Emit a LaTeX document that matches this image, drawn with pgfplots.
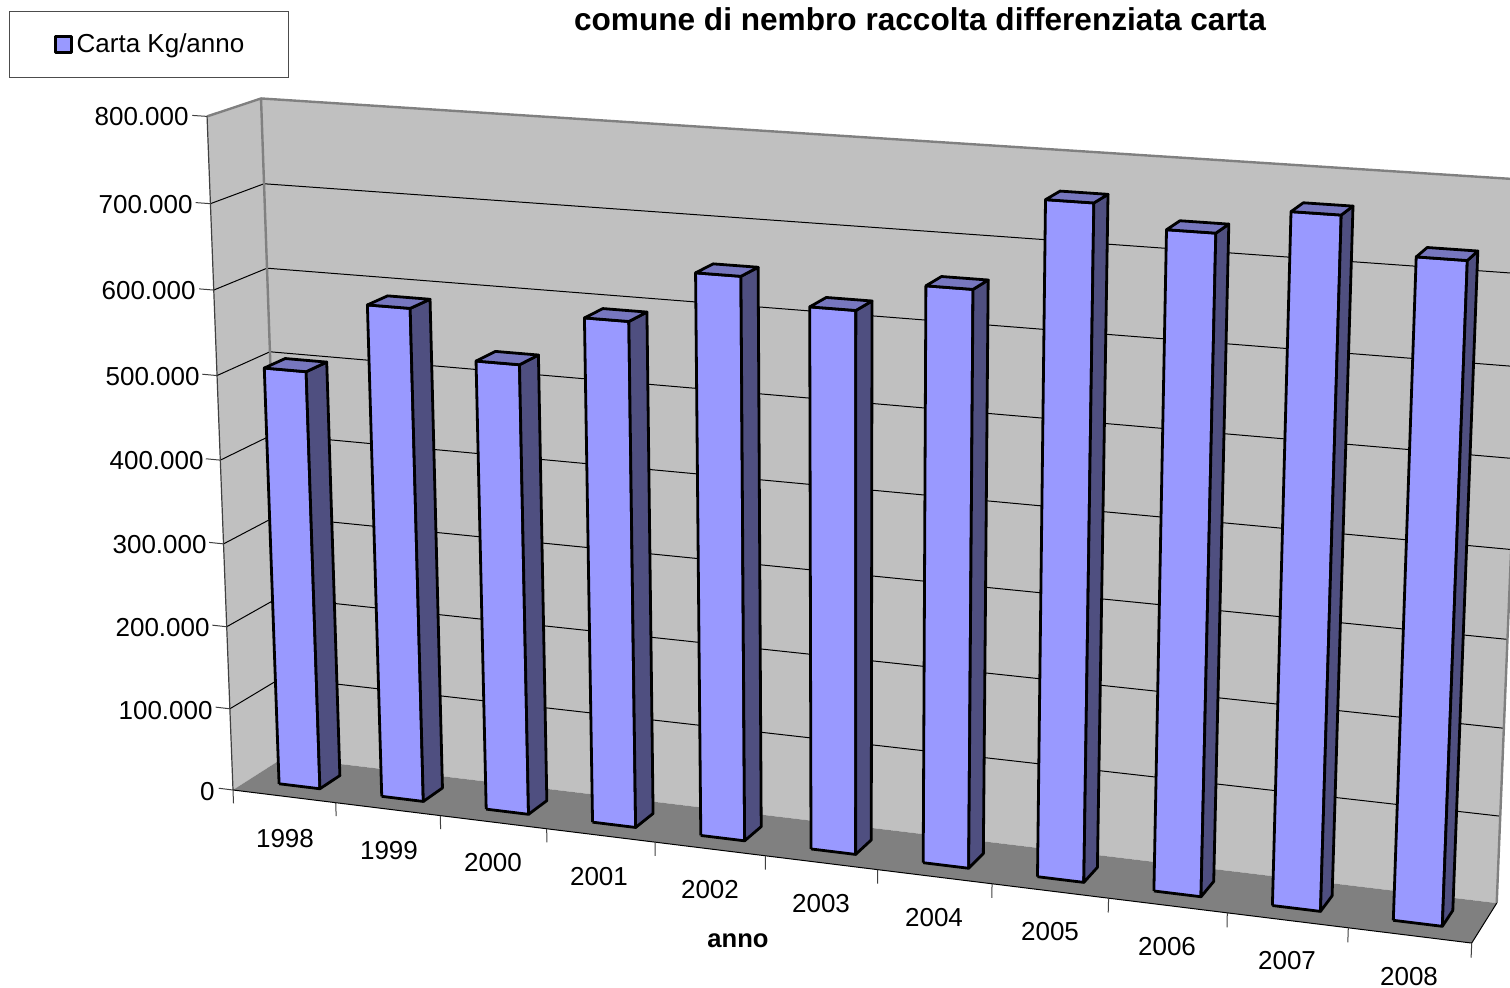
\documentclass[border=0pt]{standalone}
\usepackage{pgfplots}
\usepackage{pgfplotstable}
\usepackage{fontspec}
\setmainfont{Liberation Sans}
\pgfplotsset{compat=1.18}

\definecolor{barfront}{HTML}{9999FF}
\definecolor{barside}{HTML}{4F4F80}
\definecolor{bartop}{HTML}{7777BF}
\definecolor{wall}{HTML}{C0C0C0}
\definecolor{floorc}{HTML}{808080}

% data: carta kg/anno
\pgfplotstableread{
anno val
1998 503500
1999 587800
2000 533100
2001 593100
2002 654000
2003 625800
2004 659100
2005 762500
2006 739200
2007 767600
2008 729000
}\carta

% shapes: u = along the years, h = share of the value, w = depth
\pgfplotstableread{
u h w
.3 0 .3
.7 0 .3
.7 1 .3
.3 1 .3
.3 0 .3
}\frontface
\pgfplotstableread{
u h w
.7 0 .3
.7 0 .7
.7 1 .7
.7 1 .3
.7 0 .3
}\sideface
\pgfplotstableread{
u h w
.3 1 .3
.7 1 .3
.7 1 .7
.3 1 .7
.3 1 .3
}\topface
\pgfplotstableread{
u h w
0 0 1
11 0 1
11 1 1
0 1 1
0 0 1
}\backwall
\pgfplotstableread{
u h w
0 0 0
0 0 1
0 1 1
0 1 0
0 0 0
}\leftwall
\pgfplotstableread{
u h w
0 0 0
11 0 0
11 0 1
0 0 1
0 0 0
}\floorface
\pgfplotstableread{
u h w
0 1 0
0 1 1
11 1 1
}\gridline
\pgfplotstableread{
u h w
-.14 1 0
0 1 0
}\ytickline
\pgfplotstableread{
u h w
0 0 0
0 -1 0
}\xtickline
\pgfplotstableread{
u h w
0 0 1
0 1 1
0 1 0
}\wallleftedge
\pgfplotstableread{
u h w
0 1 1
11 1 1
11 0 1
}\walltopedge
\pgfplotstableread{
u h w
0 0 0
0 1 0
}\axisedge
\pgfplotstableread{
u h w
0 0 0
11 0 0
11 0 1
}\flooredge

\pgfplotsset{/pgfplots/table/persp/.style={
  x expr={fx(\thisrow{u}+\ii,\thisrow{h}*\curv/800000,\thisrow{w})},
  y expr={fy(\thisrow{u}+\ii,\thisrow{h}*\curv/800000,\thisrow{w})},
}}
\def\ii{0}
\def\curv{800000}

\begin{document}
\begin{tikzpicture}
\begin{axis}[
  scale only axis,
  width=755pt, height=494pt,
  xmin=0, xmax=1510, ymin=0, ymax=988,
  y dir=reverse,
  hide axis,
  declare function={
    dd(\U,\T,\W)=1-0.0087*\U-0.0404*\T+0.0235*\W;
    fx(\U,\T,\W)=(233+99.8*\U-34.3*\T+57.9*\W)/dd(\U,\T,\W);
    fy(\U,\T,\W)=(790+5.71*\U-678.3*\T-14.9*\W)/dd(\U,\T,\W);
  },
  every axis plot/.append style={forget plot, line join=round},
  legend style={
    at={(axis cs:9,11)}, anchor=north west,
    draw=black!70, line width=.5pt, fill=white,
    inner xsep=20pt, inner ysep=9pt,
    font=\fontsize{13}{15}\selectfont,
  },
  legend cell align=left,
]
% walls and floor
\addplot[fill=wall, draw=none] table[persp] {\leftwall};
\addplot[fill=wall, draw=none] table[persp] {\backwall};
\addplot[fill=floorc, draw=none] table[persp] {\floorface};

% grid lines
\pgfplotsinvokeforeach{100000,200000,300000,400000,500000,600000,700000}{
  \def\curv{#1}
  \addplot[black, line width=.5pt] table[persp] {\gridline};
}
\def\curv{800000}
\addplot[floorc, line width=1.2pt] table[persp] {\wallleftedge};
\addplot[floorc, line width=1.2pt] table[persp] {\walltopedge};
\addplot[black!75, line width=.6pt] table[persp] {\axisedge};
\addplot[black, line width=.5pt] table[persp] {\flooredge};

% ticks
\pgfplotsinvokeforeach{0,100000,200000,300000,400000,500000,600000,700000,800000}{
  \def\curv{#1}
  \addplot[black!75, line width=.5pt] table[persp] {\ytickline};
}
\def\curv{16600}
\pgfplotsinvokeforeach{0,...,11}{
  \def\ii{#1}
  \addplot[black!75, line width=.5pt] table[persp] {\xtickline};
}

% bars
\pgfplotsinvokeforeach{0,...,10}{
  \def\ii{#1}
  \pgfplotstablegetelem{#1}{val}\of\carta
  \edef\curv{\pgfplotsretval}
  \addplot[fill=barfront, draw=black, line width=1.4pt] table[persp] {\frontface};
  \addplot[fill=barside, draw=black, line width=1.4pt] table[persp] {\sideface};
  \addplot[fill=bartop, draw=black, line width=1.4pt] table[persp] {\topface};
}

\addlegendimage{legend image code/.code={
  \path[draw=none] (0pt,0pt) -- (3pt,0pt);
  \draw[fill=barfront, draw=black, line width=1.2pt] (3pt,-4pt) rectangle (11pt,4pt);
}}
\addlegendentry{Carta Kg/anno}

% text
\begin{scope}[every node/.style={font=\fontsize{13}{15}\selectfont, inner sep=0pt}]
\node[anchor=base east] at (axis cs:189,126) {800.000};
\node[anchor=base east] at (axis cs:193,214) {700.000};
\node[anchor=base east] at (axis cs:196,300) {600.000};
\node[anchor=base east] at (axis cs:200,386) {500.000};
\node[anchor=base east] at (axis cs:204,470) {400.000};
\node[anchor=base east] at (axis cs:207,554) {300.000};
\node[anchor=base east] at (axis cs:210,637) {200.000};
\node[anchor=base east] at (axis cs:213,719) {100.000};
\node[anchor=base east] at (axis cs:215,800) {0};
\node[anchor=base] at (axis cs:285,847) {1998};
\node[anchor=base] at (axis cs:389,859) {1999};
\node[anchor=base] at (axis cs:493,871) {2000};
\node[anchor=base] at (axis cs:599,885) {2001};
\node[anchor=base] at (axis cs:710,898) {2002};
\node[anchor=base] at (axis cs:821,912) {2003};
\node[anchor=base] at (axis cs:934,926) {2004};
\node[anchor=base] at (axis cs:1050,940) {2005};
\node[anchor=base] at (axis cs:1167,955) {2006};
\node[anchor=base] at (axis cs:1287,969) {2007};
\node[anchor=base] at (axis cs:1409,985) {2008};
\node[anchor=base, font=\fontsize{12.8}{15}\selectfont\bfseries] at (axis cs:738,947) {anno};
\node[anchor=base, font=\fontsize{15.8}{18}\selectfont\bfseries] at (axis cs:920,31) {comune di nembro raccolta differenziata carta};
\end{scope}
\end{axis}
\path (current axis.south west) rectangle (current axis.north east);
\end{tikzpicture}
\end{document}
